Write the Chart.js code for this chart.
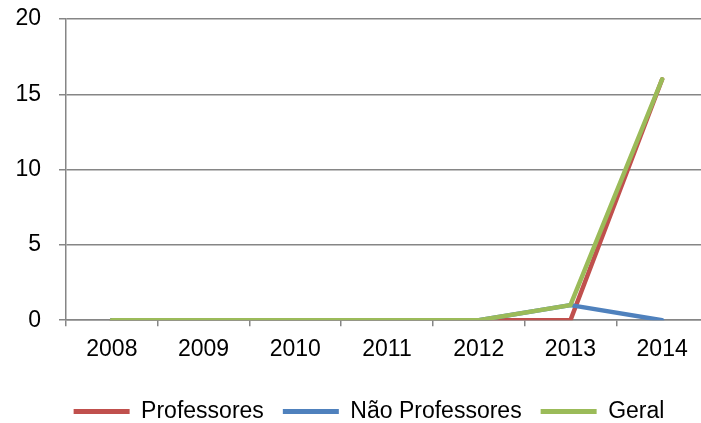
<!DOCTYPE html>
<html>
<head>
<meta charset="utf-8">
<script src="https://cdn.jsdelivr.net/npm/chart.js@4"></script>
<style>
  html, body { margin: 0; padding: 0; background: #fff; overflow: hidden; }
  #wrap { width: 708px; height: 423px; }
</style>
</head>
<body>
<div id="wrap"><canvas id="myChart"></canvas></div>
<script>
const years = ['2008', '2009', '2010', '2011', '2012', '2013', '2014'];
const professores = [0, 0, 0, 0, 0, 0, 16];
const naoProfessores = [0, 0, 0, 0, 0, 1, 0];
const geral = [0, 0, 0, 0, 0, 1, 16];
const yTicks = [0, 5, 10, 15, 20];

const font = { family: "'Liberation Sans', Arial, sans-serif", size: 23 };
const gridGrey = '#868686';

function serie(label, data, color, order) {
  return {
    label: label,
    data: data,
    borderColor: color,
    backgroundColor: color,
    borderWidth: 4.5,
    borderCapStyle: 'round',
    borderJoinStyle: 'round',
    pointRadius: 0,
    tension: 0,
    order: order
  };
}

// the legend in the original sits a bit right of the canvas centre
const shiftLegend = {
  id: 'shiftLegend',
  afterLayout(chart) {
    chart.legend.left += 15;
    chart.legend.right += 15;
  }
};

new Chart(document.getElementById('myChart'), {
  type: 'line',
  data: {
    labels: years,
    datasets: [
      serie('Professores', professores, '#C0504D', 2),
      serie('Não Professores', naoProfessores, '#4F81BD', 1),
      serie('Geral', geral, '#9BBB59', 0)
    ]
  },
  plugins: [shiftLegend],
  options: {
    responsive: true,
    maintainAspectRatio: false,
    animation: false,
    layout: { padding: { left: 0, top: 19, right: 0, bottom: -10 } },
    plugins: {
      tooltip: { enabled: false },
      legend: {
        position: 'bottom',
        title: { display: true, text: '', font: { size: 1 }, padding: { top: 0, bottom: 6 } },
        labels: {
          font: font,
          color: '#000',
          boxWidth: 56,
          boxHeight: 5,
          padding: 19,
          sort: (a, b) => a.datasetIndex - b.datasetIndex,
          generateLabels: (chart) => {
            const items = Chart.defaults.plugins.legend.labels.generateLabels(chart);
            items.forEach(it => { it.lineWidth = 0; });
            return items;
          }
        }
      }
    },
    scales: {
      x: {
        offset: true,
        grid: {
          offset: true,
          drawOnChartArea: false,
          color: gridGrey,
          lineWidth: 1.5,
          tickLength: 6
        },
        border: { color: gridGrey, width: 1.5 },
        ticks: { font: font, color: '#000', padding: 10, maxRotation: 0 }
      },
      y: {
        min: 0,
        max: 20,
        afterBuildTicks: (axis) => { axis.ticks = yTicks.map(v => ({ value: v })); },
        afterFit: (axis) => {
          axis.width = 66;
          axis.paddingTop = 0;
          axis.paddingBottom = 0;
        },
        grid: { color: gridGrey, lineWidth: 1.5, tickLength: 7 },
        border: { color: gridGrey, width: 1.5 },
        ticks: { font: font, color: '#000', padding: 18 }
      }
    }
  }
});
</script>
</body>
</html>
